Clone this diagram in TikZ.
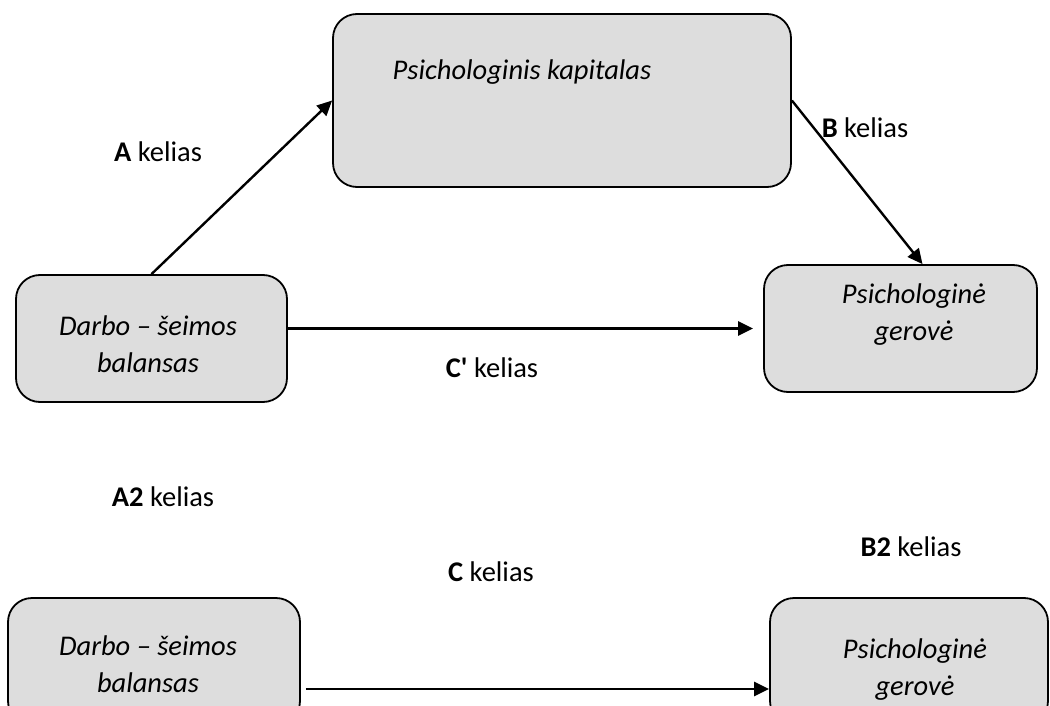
\documentclass[tikz,border=0pt]{standalone}
\usepackage{fontspec}
\setmainfont{Carlito}
\usetikzlibrary{arrows.meta}
\definecolor{boxgray}{HTML}{DDDDDD}
\tikzset{
  box/.style={draw,line width=1.8pt,fill=boxgray,rounded corners=24pt,inner sep=0pt},
  boxtext/.style={font=\fontsize{28.5}{37}\selectfont\itshape,align=center},
  lbl/.style={font=\fontsize{28.5}{33}\selectfont},
  conn/.style={line width=2.4pt,-{Triangle[length=15pt,width=14pt]}}
}
\begin{document}
\begin{tikzpicture}[x=1pt,y=-1pt]
\useasboundingbox (0,0) rectangle (1050,706);
\clip (0,0) rectangle (1050,706);

% boxes
\node[box,minimum width=458pt,minimum height=173pt] (kap) at (562,100.5) {};
\node[box,minimum width=271pt,minimum height=127pt] (dsb) at (151.5,338.5) {};
\node[box,minimum width=273pt,minimum height=127pt] (pg) at (900.5,328.5) {};
\node[box,minimum width=292pt,minimum height=127pt] (dsb2) at (154,661.5) {};
\node[box,minimum width=278pt,minimum height=127pt] (pg2) at (909,661.5) {};

% texts in the boxes
\node[boxtext] (kapt) at (522,72) {Psichologinis kapitalas};
\node[boxtext] (dsbt) at (148,344) {Darbo – šeimos\\balansas};
\node[boxtext] (pgt) at (914,315) {Psichologinė\\gerovė};
\node[boxtext] (dsb2t) at (148,664) {Darbo – šeimos\\balansas};
\node[boxtext] (pg2t) at (915,670) {Psichologinė\\gerovė};

% paths
\draw[conn] (dsb.north) -- (kap.west);
\draw[conn] (kap.east) -- ([xshift=22pt]pg.north);
\draw[conn,shorten >=10pt] (dsb.east |- pg.west) -- (pg.west);
\draw[conn,shorten <=5pt] ([yshift=-27.5pt]dsb2.east) -- ([yshift=-27.5pt]pg2.west);

% labels
\node[lbl] (la) at (158,152) {\textbf{A} kelias};
\node[lbl] (lb) at (865,128) {\textbf{B} kelias};
\node[lbl] (lc1) at (492,368) {\textbf{C\textquotesingle} kelias};
\node[lbl] (la2) at (163,497) {\textbf{A2} kelias};
\node[lbl] (lb2) at (911,547) {\textbf{B2} kelias};
\node[lbl] (lc) at (491,572) {\textbf{C} kelias};
\end{tikzpicture}
\end{document}
